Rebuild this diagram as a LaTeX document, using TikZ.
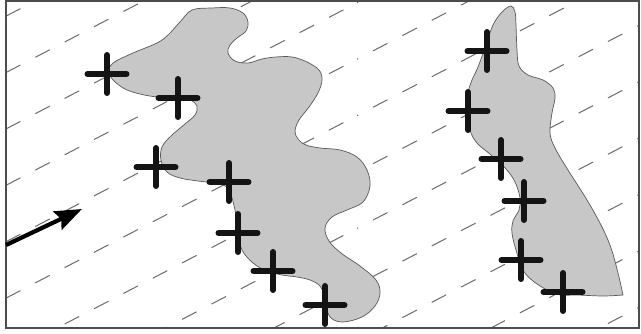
\documentclass[tikz,border=0pt]{standalone}
\usetikzlibrary{arrows.meta}
\begin{document}
\begin{tikzpicture}[x=1pt,y=-1pt,
  hatch/.style={draw=black!58, line width=1pt, dash pattern=on 16.3pt off 16.8pt},
  blob/.style={fill=black!22, draw=black!65, line width=0.7pt},
  crossmark/.style={line width=6pt, line cap=round, draw=black!92},
  frame/.style={draw=black!70, line width=1.4pt},
  wind/.style={line width=4.2pt, -{Stealth[length=27pt,width=20pt,inset=4pt]}}]
\useasboundingbox (0,0) rectangle (641,334);
% dashed flow lines, left panel
\begin{scope}
  \clip (6,1) rectangle (357,328);
  \foreach \k in {-1,...,10} {
    \pgfmathsetmacro{\cc}{75.64+56.4*\k}
    \draw[hatch] (-52.8,\cc+27.46) -- (700,\cc-364);
  }
\end{scope}
% dashed flow lines, right panel
\begin{scope}
  \clip (357,1) rectangle (639,328);
  \foreach \k in {-1,...,10} {
    \pgfmathsetmacro{\cc}{75.64+56.4*\k}
    \draw[hatch] (-38.1,\cc+19.81) -- (700,\cc-364);
  }
\end{scope}
% left blob
\draw[blob] plot[smooth, tension=0.6] coordinates {
 (108,72) (113,63) (133,53) (157,43) (168,35) (180,22) (192,10) (212,8) (230,8)
 (243,13) (248,22) (246,31) (237,38) (230,45) (228,53) (235,61) (248,63) (262,59)
 (276,57) (292,57) (307,62) (319,70) (322,80) (318,93) (309,107) (299,120) (295,131)
 (298,139) (306,145) (320,148) (340,150) (357,157) (367,170) (370,186) (363,202)
 (347,210) (332,217) (325,228) (329,241) (341,253) (360,266) (376,280) (380,293)
 (375,306) (362,317) (343,322) (331,318) (326,307) (324,295) (320,286) (310,280)
 (297,277) (282,275) (267,271) (253,263) (242,250) (239,235) (236,215) (232,198)
 (227,187) (213,183) (198,181) (180,178) (167,172) (161,160) (162,147) (171,136)
 (185,124) (195,115) (197,106) (190,100) (175,98) (157,97) (140,94) (125,89) (113,80)
 (108,72)} -- cycle;
% right blob
\draw[blob] plot[smooth, tension=0.6] coordinates {
 (623,295) (603,296) (577,295) (560,295) (547,290) (533,281) (523,270) (516,250)
 (512,233) (513,221) (519,210) (520,198) (515,182) (506,169) (491,155) (477,143)
 (470,130) (467,110) (468,93) (472,80) (478,67) (486,45) (493,25) (502,12) (511,6)
 (515,12) (516,25) (517,50) (519,66) (528,75) (543,80) (553,88) (555,98) (552,113)
 (550,133) (555,148) (568,170) (587,200) (602,227) (611,248) (618,273) (623,295)} -- cycle;
% crosses
\foreach \x/\y in {107/74, 178/98, 156/167, 229/182, 238/233, 273/271, 325/305,
                   487/51, 468/111, 501/159, 524/201, 521/260, 563/292} {
  \draw[crossmark] (\x-19.5,\y) -- (\x+19.5,\y) (\x,\y-19) -- (\x,\y+19);
}
% frame
\draw[frame] (6,1) rectangle (639,328);
% wind arrow
\coordinate (windstart) at (6,245);
\coordinate (windend) at (82,209);
\draw[wind] (windstart) -- (windend);
\end{tikzpicture}
\end{document}
